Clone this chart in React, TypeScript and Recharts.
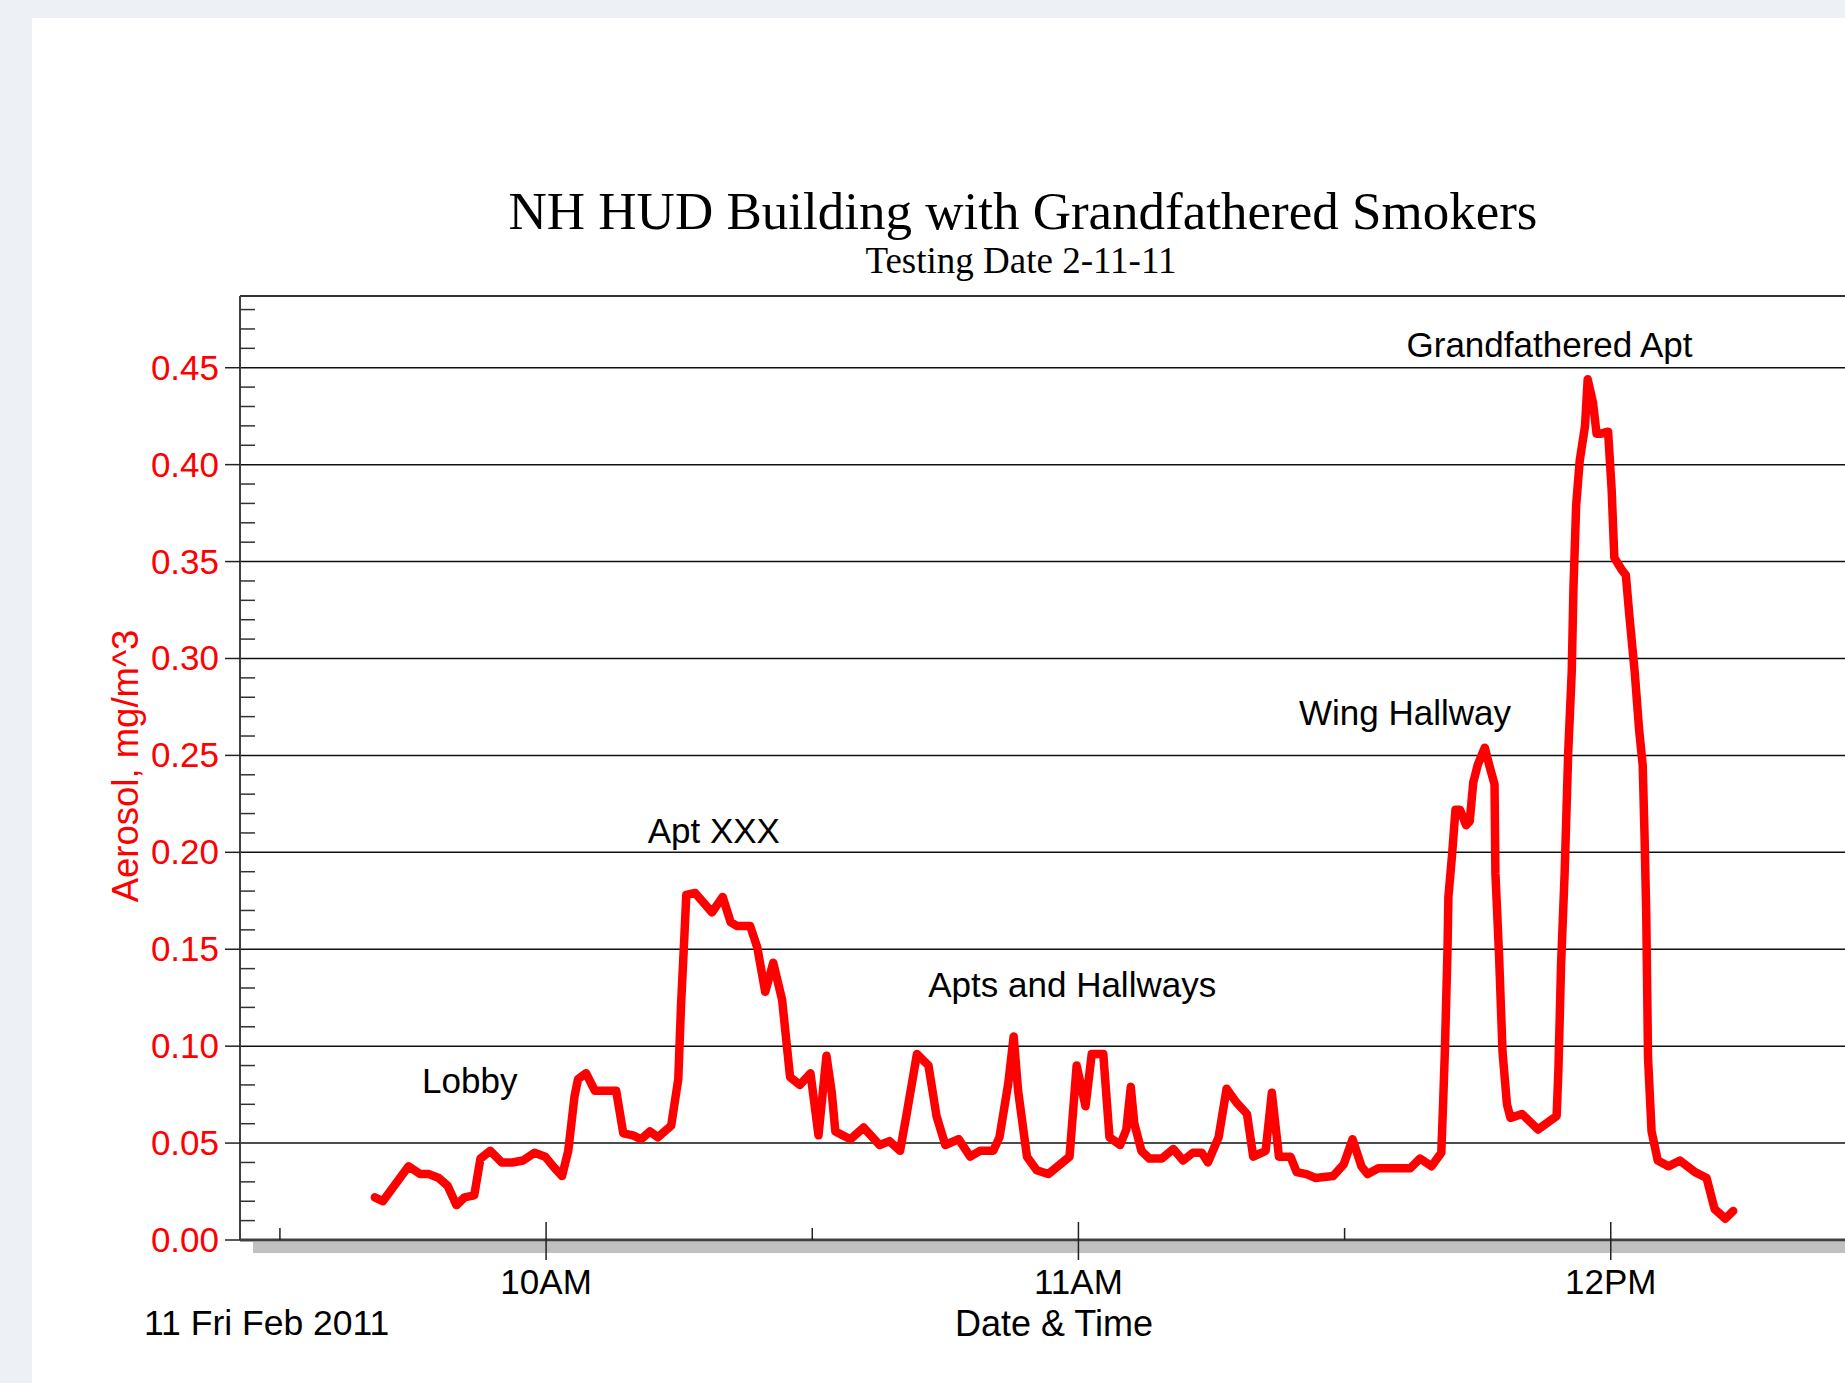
import React from 'react';
import { LineChart, Line, XAxis, YAxis, ReferenceLine, ReferenceDot } from 'recharts';

// sample times, minutes after midnight (9:40 AM .. 12:14 PM, 11 Feb 2011)
const minutes = [
  580.7, 581.6, 584.5, 585.8, 586.8, 587.9, 588.9, 589.9, 590.8, 591.9,
  592.6, 593.7, 595.0, 596.2, 597.4, 598.7, 599.9, 600.8, 601.8, 602.5,
  603.2, 603.6, 604.5, 605.5, 607.9, 608.7, 609.8, 610.7, 611.7, 612.6,
  614.1, 614.9, 615.2, 615.6, 615.8, 616.8, 618.7, 619.9, 620.8, 621.5,
  623.0, 623.8, 624.7, 625.6, 626.6, 627.5, 628.6, 629.8, 630.7, 631.6,
  632.2, 632.6, 634.3, 635.8, 637.6, 638.7, 639.9, 640.6, 641.8, 643.1,
  644.0, 645.0, 646.5, 647.8, 648.9, 650.4, 651.1, 652.1, 652.7, 653.2,
  654.2, 655.3, 656.6, 659.0, 659.8, 660.8, 661.5, 662.8, 663.5, 664.7,
  665.4, 665.9, 666.3, 667.1, 668.0, 669.4, 670.7, 671.8, 672.9, 673.9,
  674.6, 675.8, 676.7, 677.8, 679.0, 679.7, 681.1, 681.8, 682.6, 683.9,
  684.6, 685.7, 686.7, 688.7, 689.9, 690.9, 691.9, 692.6, 693.8, 697.4,
  698.5, 699.8, 700.9, 701.1, 701.3, 701.6, 701.7, 702.1, 702.5, 703.0,
  703.7, 704.1, 704.5, 705.0, 705.8, 706.3, 706.9, 707.0, 707.4, 707.8,
  708.3, 708.7, 710.0, 711.8, 713.9, 714.1, 714.4, 714.8, 715.2, 715.6,
  715.8, 716.1, 716.5, 717.1, 717.4, 718.0, 718.4, 718.9, 719.7, 720.1,
  720.4, 721.2, 721.7, 722.1, 722.7, 723.2, 723.6, 723.8, 724.0, 724.2,
  724.6, 725.3, 726.5, 727.8, 729.5, 730.8, 731.7, 732.9, 733.8,
];

// aerosol, mg/m^3
const aerosol = [
  0.022, 0.020, 0.038, 0.034, 0.034, 0.032, 0.028, 0.018, 0.022, 0.023,
  0.042, 0.046, 0.040, 0.040, 0.041, 0.045, 0.043, 0.038, 0.033, 0.046,
  0.074, 0.083, 0.086, 0.077, 0.077, 0.055, 0.054, 0.052, 0.056, 0.053,
  0.059, 0.083, 0.120, 0.158, 0.178, 0.179, 0.169, 0.177, 0.164, 0.162,
  0.162, 0.151, 0.128, 0.143, 0.124, 0.084, 0.080, 0.086, 0.054, 0.095,
  0.076, 0.056, 0.052, 0.058, 0.049, 0.051, 0.046, 0.064, 0.096, 0.090,
  0.064, 0.049, 0.052, 0.043, 0.046, 0.046, 0.053, 0.081, 0.105, 0.077,
  0.043, 0.036, 0.034, 0.043, 0.090, 0.069, 0.096, 0.096, 0.053, 0.049,
  0.057, 0.079, 0.060, 0.046, 0.042, 0.042, 0.047, 0.041, 0.045, 0.045,
  0.040, 0.053, 0.078, 0.071, 0.065, 0.043, 0.046, 0.076, 0.043, 0.043,
  0.035, 0.034, 0.032, 0.033, 0.039, 0.052, 0.038, 0.034, 0.037, 0.037,
  0.042, 0.038, 0.045, 0.070, 0.097, 0.150, 0.177, 0.198, 0.222, 0.222,
  0.214, 0.216, 0.236, 0.245, 0.254, 0.245, 0.235, 0.189, 0.148, 0.097,
  0.070, 0.063, 0.065, 0.057, 0.064, 0.088, 0.142, 0.189, 0.251, 0.293,
  0.337, 0.379, 0.402, 0.420, 0.444, 0.432, 0.416, 0.416, 0.417, 0.387,
  0.352, 0.346, 0.343, 0.322, 0.293, 0.263, 0.245, 0.210, 0.168, 0.094,
  0.056, 0.041, 0.038, 0.041, 0.035, 0.032, 0.016, 0.011, 0.015,
];

const hourTicks = [600, 660, 720];
const hourLabels = ['10AM', '11AM', '12PM'];
const halfHourTicks = [570, 630, 690, 750];

const gridValues = [0.05, 0.1, 0.15, 0.2, 0.25, 0.3, 0.35, 0.4, 0.45];
// minor ticks every 0.01
const yTicks = Array.from({ length: 49 }, (_, i) => i / 100);

const annotations = [
  { text: 'Lobby', t: 591.4, v: 0.082 },
  { text: 'Apt XXX', t: 618.9, v: 0.211 },
  { text: 'Apts and Hallways', t: 659.3, v: 0.132 },
  { text: 'Wing Hallway', t: 696.8, v: 0.272 },
  { text: 'Grandfathered Apt', t: 713.1, v: 0.462 },
];

const data = minutes.map((t, i) => ({ t, v: aerosol[i] }));

const SANS = 'Arial, "Liberation Sans", Helvetica, sans-serif';
const SERIF = '"Times New Roman", "Liberation Serif", serif';

function YTick(props: any) {
  const { x, y, payload } = props;
  const hundredths = Math.round(payload.value * 100);
  if (hundredths % 5 !== 0) {
    return <line x1={x} x2={x + 15} y1={y} y2={y} stroke="#333" strokeWidth={1.5} />;
  }
  return (
    <g>
      <line x1={x - 15} x2={x} y1={y} y2={y} stroke="#222" strokeWidth={1.5} />
      <text x={x - 21} y={y + 12} textAnchor="end" fill="#ff0000" fontSize={35} fontFamily={SANS}>
        {payload.value.toFixed(2)}
      </text>
    </g>
  );
}

function XTick(props: any) {
  const { x, y, payload } = props;
  const idx = hourTicks.indexOf(payload.value);
  if (idx < 0) {
    return <line x1={x} x2={x} y1={y - 12} y2={y} stroke="#222" strokeWidth={1.5} />;
  }
  return (
    <g>
      <line x1={x} x2={x} y1={y - 18} y2={y + 20} stroke="#222" strokeWidth={1.5} />
      <text x={x} y={y + 54} textAnchor="middle" fill="#000" fontSize={35} fontFamily={SANS}>
        {hourLabels[idx]}
      </text>
    </g>
  );
}

export default function App() {
  return (
    <div
      style={{
        position: 'absolute',
        left: 0,
        top: 0,
        width: 1845,
        height: 1383,
        overflow: 'hidden',
        background: '#edf0f5',
      }}
    >
      <div style={{ position: 'absolute', left: 32, top: 18, right: 0, bottom: 0, background: '#fff' }} />

      <div
        style={{
          position: 'absolute', left: 0, width: 2046, top: 185, textAlign: 'center',
          fontFamily: SERIF, fontSize: 53, lineHeight: '53px', color: '#000', whiteSpace: 'nowrap',
        }}
      >
        NH HUD Building with Grandfathered Smokers
      </div>
      <div
        style={{
          position: 'absolute', left: 0, width: 2042, top: 242, textAlign: 'center',
          fontFamily: SERIF, fontSize: 37, lineHeight: '37px', color: '#000', whiteSpace: 'nowrap',
        }}
      >
        Testing Date 2-11-11
      </div>

      <div
        style={{
          position: 'absolute', left: 126 - 200, top: 766 - 18, width: 400, height: 36,
          lineHeight: '36px', textAlign: 'center', transform: 'rotate(-90deg)',
          fontFamily: SANS, fontSize: 36.5, color: '#ff0000', whiteSpace: 'nowrap',
        }}
      >
        Aerosol, mg/m^3
      </div>

      {/* shadow band under the time axis */}
      <div style={{ position: 'absolute', left: 253, right: 0, top: 1242, height: 11, background: '#c0c0c0' }} />

      <div
        style={{
          position: 'absolute', left: 144, top: 1306, fontFamily: SANS, fontSize: 35.5,
          lineHeight: '35px', color: '#000', whiteSpace: 'nowrap',
        }}
      >
        11 Fri Feb 2011
      </div>
      <div
        style={{
          position: 'absolute', left: 1054 - 200, width: 400, top: 1306, textAlign: 'center',
          fontFamily: SANS, fontSize: 36, lineHeight: '35px', color: '#000', whiteSpace: 'nowrap',
        }}
      >
        Date &amp; Time
      </div>

      <div style={{ position: 'absolute', left: 0, top: 0 }}>
        <LineChart width={1900} height={1383} data={data} margin={{ top: 296, right: 0, left: 0, bottom: 0 }}>
          {gridValues.map(g => (
            <ReferenceLine key={g} y={g} stroke="#111" strokeWidth={1.5} />
          ))}
          <ReferenceLine y={0.487} stroke="#333" strokeWidth={2} />
          <XAxis
            type="number"
            dataKey="t"
            domain={[565.5, 752.6]}
            allowDataOverflow
            ticks={[...halfHourTicks, ...hourTicks].sort((a, b) => a - b)}
            interval={0}
            height={143}
            tickSize={0}
            tickMargin={0}
            tickLine={false}
            axisLine={{ stroke: '#404040', strokeWidth: 3 }}
            tick={(p: any) => <XTick {...p} />}
          />
          <YAxis
            type="number"
            domain={[0, 0.487]}
            allowDataOverflow
            ticks={yTicks}
            interval={0}
            width={240}
            tickSize={0}
            tickMargin={0}
            tickLine={false}
            axisLine={{ stroke: '#404040', strokeWidth: 2 }}
            tick={(p: any) => <YTick {...p} />}
          />
          <Line
            type="linear"
            dataKey="v"
            stroke="#ff0000"
            strokeWidth={8.5}
            strokeLinejoin="round"
            strokeLinecap="round"
            dot={false}
            activeDot={false}
            isAnimationActive={false}
          />
          {annotations.map(a => (
            <ReferenceDot
              key={a.text}
              x={a.t}
              y={a.v}
              r={0}
              fill="none"
              stroke="none"
              label={{ value: a.text, position: 'center', fill: '#000', fontSize: 35, fontFamily: SANS }}
            />
          ))}
        </LineChart>
      </div>
    </div>
  );
}
